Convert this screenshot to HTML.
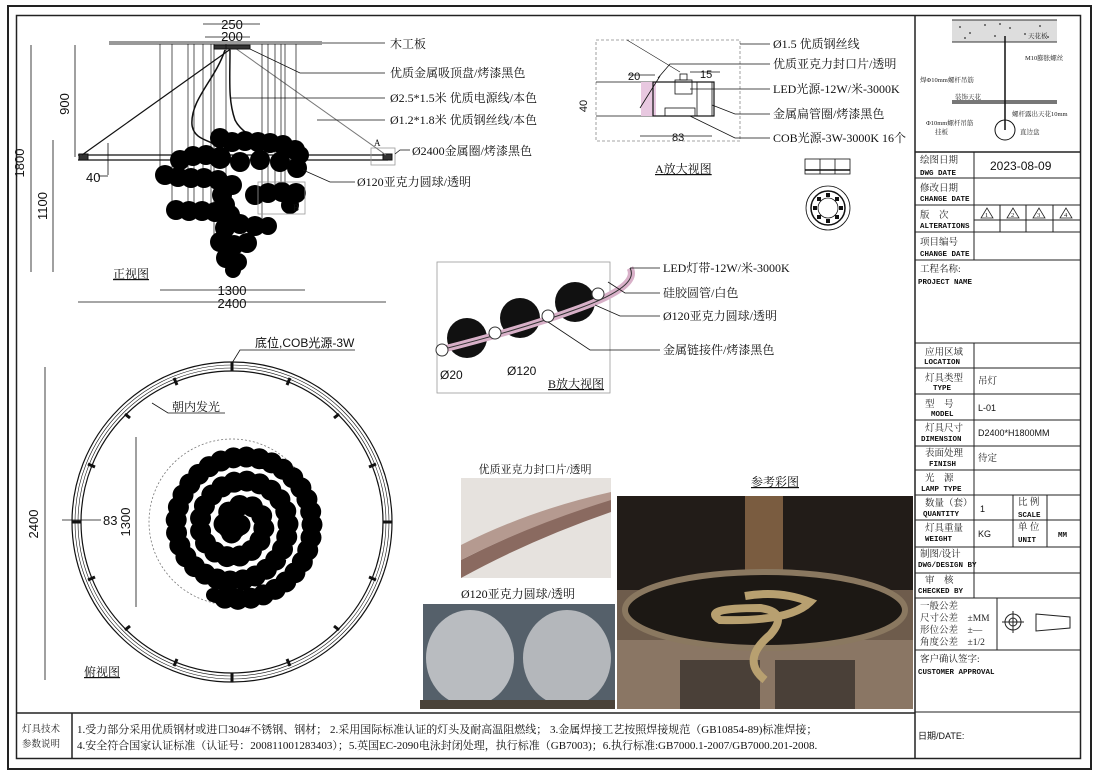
<!DOCTYPE html>
<html><head><meta charset="utf-8"><style>
html,body{margin:0;padding:0;background:#fff;}
svg{display:block;}
.s{font-family:"Liberation Serif","Noto Serif CJK SC",serif;font-size:12px;fill:#111;}
.a{font-family:"Liberation Sans","Noto Sans CJK SC",sans-serif;font-size:13px;fill:#111;}
.t{font-family:"Liberation Serif","Noto Serif CJK SC",serif;font-size:9.5px;fill:#222;}
.e{font-family:"Liberation Mono","Noto Sans CJK SC",monospace;font-size:7.5px;font-weight:bold;fill:#111;}
</style></head><body>
<svg width="1100" height="776" viewBox="0 0 1100 776" xmlns="http://www.w3.org/2000/svg">
<rect x="0" y="0" width="1100" height="776" fill="#fff"/>
<rect x="8" y="6" width="1083" height="763" fill="none" stroke="#222" stroke-width="2"/>
<rect x="16.5" y="15.5" width="1064" height="743" fill="none" stroke="#222" stroke-width="1.5"/>
<line x1="915" y1="15" x2="915" y2="759" stroke="#222" stroke-width="1.5"/>
<line x1="16" y1="713" x2="915" y2="713" stroke="#222" stroke-width="1.5"/>
<line x1="72" y1="713" x2="72" y2="759" stroke="#222" stroke-width="1.5"/>
<text class="t" x="22" y="732">灯具技术</text>
<text class="t" x="22" y="747">参数说明</text>
<text class="s" x="77" y="733" style="font-size:11px">1.受力部分采用优质钢材或进口304#不锈钢、钢材； 2.采用国际标准认证的灯头及耐高温阻燃线； 3.金属焊接工艺按照焊接规范（GB10854-89)标准焊接；</text>
<text class="s" x="77" y="749" style="font-size:11px">4.安全符合国家认证标准（认证号：200811001283403）；5.英国EC-2090电泳封闭处理，执行标准（GB7003)；6.执行标准:GB7000.1-2007/GB7000.201-2008.</text>

<!-- FRONT VIEW -->
<g stroke="#111" fill="none">
<line x1="109" y1="43" x2="322" y2="43" stroke="#999" stroke-width="4"/>
<line x1="322" y1="43" x2="385" y2="43" stroke-width="0.8"/>
<line x1="78" y1="155" x2="388" y2="155" stroke-width="1.2"/>
<line x1="78" y1="160" x2="388" y2="160" stroke-width="1.2"/>
<rect x="79" y="154" width="9" height="6" fill="#333"/>
<rect x="383" y="154" width="9" height="6" fill="#333"/>
<rect x="371" y="148" width="24" height="17" stroke="#999" stroke-width="0.8"/>
<line x1="232" y1="48" x2="82" y2="155" stroke-width="1.2"/>
<line x1="235" y1="48" x2="386" y2="155" stroke="#777" stroke-width="1"/>
<path d="M225 50 C215 80 190 100 192 125 C194 140 210 140 215 145" stroke-width="1.5"/>
<path d="M230 50 C230 80 228 100 235 120 C240 130 250 135 255 140" stroke-width="1.5"/>
<rect x="214" y="45" width="36" height="4" fill="#333"/>
<g stroke-width="0.7">
<line x1="160" y1="44" x2="160" y2="175"/><line x1="172" y1="44" x2="172" y2="210"/>
<line x1="188" y1="44" x2="188" y2="215"/><line x1="194" y1="44" x2="194" y2="210"/>
<line x1="203" y1="44" x2="203" y2="220"/><line x1="211" y1="44" x2="211" y2="210"/>
<line x1="214" y1="44" x2="214" y2="250"/><line x1="226" y1="44" x2="226" y2="260"/>
<line x1="262" y1="44" x2="262" y2="225"/><line x1="268" y1="44" x2="268" y2="200"/>
<line x1="275" y1="44" x2="275" y2="190"/><line x1="281" y1="44" x2="281" y2="200"/>
<line x1="285" y1="44" x2="285" y2="190"/><line x1="296" y1="44" x2="296" y2="150"/>
</g>
</g>
<g fill="#000">
<circle cx="220" cy="138" r="10"/><circle cx="232" cy="142" r="10"/><circle cx="245" cy="141" r="10"/><circle cx="258" cy="142" r="10"/><circle cx="270" cy="143" r="10"/><circle cx="283" cy="145" r="10"/><circle cx="295" cy="150" r="10"/>
<circle cx="180" cy="160" r="10"/><circle cx="193" cy="156" r="10"/><circle cx="206" cy="155" r="10"/><circle cx="220" cy="158" r="11"/><circle cx="240" cy="162" r="10"/><circle cx="260" cy="160" r="10"/><circle cx="280" cy="162" r="10"/><circle cx="297" cy="168" r="10"/><circle cx="300" cy="155" r="9"/>
<circle cx="165" cy="175" r="10"/><circle cx="178" cy="177" r="10"/><circle cx="191" cy="178" r="10"/><circle cx="204" cy="178" r="10"/><circle cx="218" cy="180" r="10"/><circle cx="232" cy="185" r="10"/>
<circle cx="255" cy="195" r="10"/><circle cx="268" cy="193" r="10"/><circle cx="282" cy="192" r="10"/><circle cx="296" cy="193" r="10"/><circle cx="290" cy="205" r="9"/>
<circle cx="222" cy="195" r="10"/><circle cx="225" cy="205" r="10"/>
<circle cx="176" cy="210" r="10"/><circle cx="189" cy="211" r="10"/><circle cx="202" cy="211" r="10"/><circle cx="215" cy="212" r="10"/><circle cx="230" cy="215" r="10"/>
<circle cx="225" cy="228" r="10"/><circle cx="240" cy="224" r="10"/><circle cx="255" cy="226" r="10"/><circle cx="268" cy="226" r="9"/>
<circle cx="220" cy="242" r="10"/><circle cx="234" cy="245" r="10"/><circle cx="247" cy="243" r="10"/>
<circle cx="226" cy="258" r="10"/><circle cx="238" cy="262" r="9"/><circle cx="233" cy="270" r="8"/>
</g>
<rect x="258" y="182" width="47" height="32" fill="none" stroke="#999" stroke-width="0.8"/>
<text class="s" x="293" y="211" style="font-size:9px">B</text>
<text class="s" x="374" y="146" style="font-size:9px">A</text>
<g stroke="#111" stroke-width="0.8" fill="none">
<line x1="31" y1="45" x2="31" y2="272"/><line x1="75" y1="45" x2="75" y2="157"/><line x1="53" y1="140" x2="53" y2="272"/>
<line x1="108" y1="143" x2="108" y2="175"/><line x1="98" y1="176" x2="108" y2="176"/>
<line x1="160" y1="290" x2="305" y2="290"/><line x1="78" y1="302" x2="386" y2="302"/>
<line x1="203" y1="24" x2="260" y2="24"/><line x1="205" y1="37" x2="250" y2="37"/>
<polyline points="250,49 300,73 385,73"/><polyline points="230,98 385,98"/><polyline points="317,120 385,120"/>
<polyline points="395,154 400,150 410,150"/><polyline points="303,170 330,182 355,182"/>
</g>
<g class="a">
<text x="24" y="163" transform="rotate(-90 24 163)" text-anchor="middle">1800</text>
<text x="69" y="104" transform="rotate(-90 69 104)" text-anchor="middle">900</text>
<text x="47" y="206" transform="rotate(-90 47 206)" text-anchor="middle">1100</text>
<text x="86" y="182">40</text>
<text x="232" y="295" text-anchor="middle">1300</text>
<text x="232" y="308" text-anchor="middle">2400</text>
<text x="232" y="29" text-anchor="middle">250</text>
<text x="232" y="41" text-anchor="middle">200</text>
</g>
<g class="s">
<text x="390" y="48">木工板</text>
<text x="390" y="77">优质金属吸顶盘/烤漆黑色</text>
<text x="390" y="102">Ø2.5*1.5米 优质电源线/本色</text>
<text x="390" y="124">Ø1.2*1.8米 优质钢丝线/本色</text>
<text x="412" y="155">Ø2400金属圈/烤漆黑色</text>
<text x="357" y="186">Ø120亚克力圆球/透明</text>
<text x="113" y="278" text-decoration="underline">正视图</text>
</g>

<!-- A detail -->
<g stroke="#111" stroke-width="0.8" fill="none">
<rect x="596" y="40" width="144" height="101" stroke="#888" stroke-dasharray="3,2"/>
<line x1="627" y1="40" x2="680" y2="72" stroke-width="0.6"/>
<line x1="596" y1="82" x2="655" y2="82"/><line x1="596" y1="116" x2="655" y2="116"/>
<rect x="641" y="82" width="15" height="34" fill="#e8c8e0" stroke="none"/>
<rect x="653" y="82" width="61" height="34" stroke-width="1.2"/>
<rect x="675" y="80" width="17" height="14"/><rect x="680" y="74" width="7" height="6"/>
<rect x="665" y="108" width="30" height="8"/>
<rect x="697" y="82" width="15" height="34"/>
<line x1="640" y1="108" x2="660" y2="76"/>
<line x1="740" y1="44" x2="770" y2="44"/>
<polyline points="658,78 670,64 770,64"/>
<line x1="690" y1="89" x2="770" y2="89"/>
<polyline points="712,105 735,114 770,114"/>
<polyline points="690,116 735,138 770,138"/>
<line x1="640" y1="136" x2="712" y2="136"/>
<line x1="628" y1="75" x2="655" y2="75"/><line x1="690" y1="72" x2="720" y2="72"/>
<rect x="805" y="159" width="45" height="15"/><line x1="820" y1="159" x2="820" y2="174"/><line x1="835" y1="159" x2="835" y2="174"/>
<line x1="805" y1="170" x2="850" y2="170" stroke-width="1.5"/>
<circle cx="828" cy="208" r="22"/><circle cx="828" cy="208" r="17" stroke-width="1.5"/><circle cx="828" cy="208" r="10"/>
</g>
<g fill="#111">
<rect x="826" y="193" width="4" height="4"/><rect x="826" y="219" width="4" height="4"/><rect x="813" y="206" width="4" height="4"/><rect x="839" y="206" width="4" height="4"/>
<rect x="817" y="197" width="4" height="4"/><rect x="835" y="197" width="4" height="4"/><rect x="817" y="215" width="4" height="4"/><rect x="835" y="215" width="4" height="4"/>
</g>
<g class="a" style="font-size:11px"><text x="628" y="80">20</text><text x="700" y="78">15</text><text x="672" y="141">83</text>
<text x="587" y="106" transform="rotate(-90 587 106)" text-anchor="middle">40</text></g>
<g class="s">
<text x="773" y="48">Ø1.5 优质钢丝线</text>
<text x="773" y="68">优质亚克力封口片/透明</text>
<text x="773" y="93">LED光源-12W/米-3000K</text>
<text x="773" y="118">金属扁管圈/烤漆黑色</text>
<text x="773" y="142">COB光源-3W-3000K 16个</text>
<text x="655" y="173" text-decoration="underline">A放大视图</text>
</g>

<!-- B detail -->
<rect x="437" y="262" width="173" height="131" fill="none" stroke="#999" stroke-width="0.8"/>
<g fill="#111"><circle cx="467" cy="338" r="20"/><circle cx="520" cy="318" r="20"/><circle cx="575" cy="302" r="20"/></g>
<path d="M440 350 Q 520 330 580 308 T 630 268" stroke="#d8b0c8" stroke-width="7" fill="none"/>
<path d="M440 350 Q 520 330 580 308 T 630 268" stroke="#333" stroke-width="1" fill="none"/>
<g fill="#fff" stroke="#333" stroke-width="1"><circle cx="442" cy="350" r="6"/><circle cx="495" cy="333" r="6"/><circle cx="548" cy="316" r="6"/><circle cx="598" cy="294" r="6"/></g>
<g stroke="#111" stroke-width="0.8" fill="none">
<line x1="630" y1="268" x2="660" y2="268"/><polyline points="608,282 625,293 660,293"/>
<polyline points="595,305 620,316 660,316"/><polyline points="548,322 590,350 660,350"/>
</g>
<g class="a" style="font-size:12px"><text x="440" y="379">Ø20</text><text x="507" y="375">Ø120</text></g>
<g class="s">
<text x="663" y="272">LED灯带-12W/米-3000K</text>
<text x="663" y="297">硅胶圆管/白色</text>
<text x="663" y="320">Ø120亚克力圆球/透明</text>
<text x="663" y="354">金属链接件/烤漆黑色</text>
<text x="548" y="388" text-decoration="underline">B放大视图</text>
</g>

<!-- TOP VIEW -->
<g fill="none" stroke="#111">
<circle cx="232" cy="522" r="160" stroke-width="1.2"/><circle cx="232" cy="522" r="157" stroke-width="0.6"/>
<circle cx="232" cy="522" r="154" stroke-width="0.6"/><circle cx="232" cy="522" r="151" stroke-width="1.2"/>
<circle cx="232" cy="522" r="83" stroke="#777" stroke-width="0.8" stroke-dasharray="2,2"/>
<path id="sp" d="M240 525 A8 8 0 0 1 224 525 A20 20 0 0 1 264 525 A32 32 0 0 1 200 525 A44 44 0 0 1 288 525 A56 56 0 0 1 176 525 A68 68 0 0 1 312 525 A74 74 0 0 1 213 595" stroke="#000" stroke-width="14" stroke-linecap="round"/>
<path d="M240 525 A8 8 0 0 1 224 525 A20 20 0 0 1 264 525 A32 32 0 0 1 200 525 A44 44 0 0 1 288 525 A56 56 0 0 1 176 525 A68 68 0 0 1 312 525 A74 74 0 0 1 213 595" stroke="#000" stroke-width="21" stroke-linecap="round" stroke-dasharray="0 13"/>
<line x1="45" y1="367" x2="45" y2="680" stroke-width="0.8"/>
<line x1="136" y1="437" x2="136" y2="607" stroke-width="0.8"/>
<line x1="62" y1="520" x2="101" y2="520" stroke-width="0.8"/>
<polyline points="232,363 240,350 355,350" stroke-width="0.8"/>
<polyline points="152,403 168,413 225,413" stroke-width="0.8"/>
</g>
<g stroke="#111" stroke-width="3">
<line x1="232" y1="362" x2="232" y2="371"/><line x1="232" y1="673" x2="232" y2="682"/>
<line x1="72" y1="522" x2="81" y2="522"/><line x1="383" y1="522" x2="392" y2="522"/>
<line x1="174" y1="378" x2="177" y2="385"/><line x1="290" y1="378" x2="287" y2="385"/>
<line x1="125" y1="414" x2="130" y2="418"/><line x1="339" y1="414" x2="334" y2="418"/>
<line x1="88" y1="464" x2="95" y2="467"/><line x1="376" y1="464" x2="369" y2="467"/>
<line x1="88" y1="580" x2="95" y2="577"/><line x1="376" y1="580" x2="369" y2="577"/>
<line x1="125" y1="630" x2="130" y2="626"/><line x1="339" y1="630" x2="334" y2="626"/>
<line x1="174" y1="666" x2="177" y2="659"/><line x1="290" y1="666" x2="287" y2="659"/>
</g>
<g class="a">
<text x="38" y="524" transform="rotate(-90 38 524)" text-anchor="middle">2400</text>
<text x="130" y="522" transform="rotate(-90 130 522)" text-anchor="middle">1300</text>
<text x="103" y="525">83</text>
<text x="255" y="347" style="font-size:12px">底位,COB光源-3W</text>
</g>
<g class="s"><text x="172" y="411">朝内发光</text><text x="84" y="676" text-decoration="underline">俯视图</text></g>

<!-- PHOTOS -->
<text class="s" x="535" y="473" text-anchor="middle" style="font-size:11px">优质亚克力封口片/透明</text>
<rect x="461" y="478" width="150" height="100" fill="#e6e2de"/>
<path d="M461 560 Q 530 525 611 498 L611 512 Q 530 540 461 578 Z" fill="#8a6a60"/>
<path d="M461 545 Q 530 510 611 492 L611 500 Q 530 525 461 560 Z" fill="#b59a90"/>
<text class="s" x="518" y="598" text-anchor="middle">Ø120亚克力圆球/透明</text>
<rect x="423" y="604" width="192" height="105" fill="#55606a"/>
<ellipse cx="470" cy="658" rx="44" ry="48" fill="#b9bcc0"/>
<ellipse cx="567" cy="658" rx="44" ry="48" fill="#b4b7bb"/>
<rect x="420" y="700" width="195" height="9" fill="#4a4238"/>
<text class="s" x="775" y="486" text-anchor="middle" text-decoration="underline">参考彩图</text>
<rect x="617" y="496" width="296" height="213" fill="#221c18"/>
<rect x="745" y="496" width="38" height="90" fill="#7a5c40"/>
<rect x="617" y="590" width="296" height="119" fill="#6e5c4c"/>
<rect x="617" y="640" width="296" height="69" fill="#8a7664"/>
<rect x="680" y="660" width="80" height="49" fill="#4a4038"/><rect x="775" y="660" width="80" height="49" fill="#4a4038"/>
<ellipse cx="765" cy="610" rx="140" ry="38" fill="#1c1814" stroke="#8a7860" stroke-width="6"/>
<path d="M745 596 Q 780 590 810 602 Q 790 622 720 620 Q 700 608 760 608 Q 790 612 770 635 Q 740 660 765 680" stroke="#b8a070" stroke-width="8" fill="none"/>

<!-- TITLE BLOCK -->
<g stroke="#222" stroke-width="1" fill="none">
<line x1="915" y1="152" x2="1080" y2="152" stroke-width="1.5"/>
<line x1="915" y1="178" x2="1080" y2="178"/><line x1="915" y1="205" x2="1080" y2="205"/>
<line x1="915" y1="232" x2="1080" y2="232"/><line x1="915" y1="260" x2="1080" y2="260"/>
<line x1="915" y1="343" x2="1080" y2="343"/><line x1="915" y1="368" x2="1080" y2="368"/>
<line x1="915" y1="394" x2="1080" y2="394"/><line x1="915" y1="420" x2="1080" y2="420"/>
<line x1="915" y1="446" x2="1080" y2="446"/><line x1="915" y1="470" x2="1080" y2="470"/>
<line x1="915" y1="495" x2="1080" y2="495"/><line x1="915" y1="520" x2="1080" y2="520"/>
<line x1="915" y1="547" x2="1080" y2="547"/><line x1="915" y1="573" x2="1080" y2="573"/>
<line x1="915" y1="598" x2="1080" y2="598"/><line x1="915" y1="650" x2="1080" y2="650"/>
<line x1="915" y1="712" x2="1080" y2="712"/>
<line x1="974" y1="152" x2="974" y2="260"/><line x1="974" y1="343" x2="974" y2="598"/>
<line x1="1000" y1="205" x2="1000" y2="232"/><line x1="1026" y1="205" x2="1026" y2="232"/><line x1="1053" y1="205" x2="1053" y2="232"/>
<line x1="974" y1="220" x2="1080" y2="220"/>
<line x1="1013" y1="495" x2="1013" y2="547"/><line x1="1047" y1="495" x2="1047" y2="547"/>
<line x1="997" y1="598" x2="997" y2="650"/>
<circle cx="1013" cy="622" r="8"/><circle cx="1013" cy="622" r="4"/><line x1="1002" y1="622" x2="1024" y2="622"/><line x1="1013" y1="611" x2="1013" y2="633"/>
<polygon points="1036,614 1070,617 1070,628 1036,631"/>
</g>
<g fill="none" stroke="#222" stroke-width="0.8">
<polygon points="987,208 981,218 993,218"/><polygon points="1013,208 1007,218 1019,218"/>
<polygon points="1039,208 1033,218 1045,218"/><polygon points="1066,208 1060,218 1072,218"/>
</g>
<g class="t" style="font-size:6.5px"><text x="985" y="217">1</text><text x="1011" y="217">2</text><text x="1037" y="217">3</text><text x="1064" y="217">4</text></g>
<rect x="952" y="20" width="105" height="22" fill="#ddd"/>
<g fill="#555"><circle cx="960" cy="27" r="1"/><circle cx="970" cy="33" r="1"/><circle cx="985" cy="25" r="1"/><circle cx="995" cy="36" r="1"/><circle cx="1010" cy="28" r="1"/><circle cx="1025" cy="34" r="1"/><circle cx="1040" cy="26" r="1"/><circle cx="965" cy="38" r="1"/><circle cx="1000" cy="24" r="1"/><circle cx="1048" cy="37" r="1"/></g>
<line x1="952" y1="20" x2="1057" y2="20" stroke="#333"/><line x1="952" y1="42" x2="1057" y2="42" stroke="#333"/>
<rect x="952" y="100" width="105" height="4" fill="#777"/>
<line x1="1005" y1="36" x2="1005" y2="130" stroke="#111" stroke-width="1.5"/>
<circle cx="1005" cy="130" r="10" fill="none" stroke="#111"/>
<g class="t" style="font-size:6.5px">
<text x="1028" y="38">天花板</text><text x="1025" y="60">M10膨胀螺丝</text><text x="920" y="82">焊Φ10mm螺杆吊筋</text>
<text x="955" y="99">装饰天花</text><text x="1012" y="116">螺杆露出天花10mm</text>
<text x="926" y="125">Φ10mm螺杆吊筋</text><text x="935" y="134">挂板</text><text x="1020" y="134">直边盘</text>
</g>
<g class="t">
<text x="920" y="163">绘图日期</text><text x="920" y="191">修改日期</text><text x="920" y="218">版　次</text>
<text x="920" y="245">项目编号</text><text x="920" y="272">工程名称:</text>
<text x="925" y="355">应用区域</text><text x="925" y="381">灯具类型</text><text x="925" y="407">型　号</text>
<text x="925" y="431">灯具尺寸</text><text x="925" y="456">表面处理</text><text x="925" y="481">光　源</text>
<text x="925" y="506">数量（套）</text><text x="925" y="531">灯具重量</text><text x="920" y="557">制图/设计</text>
<text x="925" y="583">审　核</text><text x="920" y="609">一般公差</text><text x="920" y="621">尺寸公差　±MM</text>
<text x="920" y="633">形位公差　±—</text><text x="920" y="645">角度公差　±1/2</text>
<text x="920" y="662">客户确认签字:</text>
<text x="1018" y="505">比 例</text><text x="1018" y="530">单 位</text>
<text x="978" y="384">吊灯</text><text x="978" y="461">待定</text>
</g>
<g class="e">
<text x="920" y="175">DWG DATE</text>
<text x="920" y="201">CHANGE DATE</text><text x="920" y="228">ALTERATIONS</text><text x="920" y="256">CHANGE DATE</text>
<text x="918" y="284">PROJECT NAME</text><text x="924" y="364">LOCATION</text><text x="933" y="390">TYPE</text>
<text x="931" y="416">MODEL</text><text x="921" y="441">DIMENSION</text><text x="929" y="466">FINISH</text>
<text x="921" y="491">LAMP TYPE</text><text x="923" y="516">QUANTITY</text><text x="925" y="541">WEIGHT</text>
<text x="918" y="567">DWG/DESIGN BY</text><text x="918" y="593">CHECKED BY</text><text x="918" y="674">CUSTOMER APPROVAL</text>
<text x="1018" y="517">SCALE</text><text x="1018" y="542">UNIT</text><text x="1058" y="537">MM</text>
</g>
<g class="a" style="font-size:12px"><text x="990" y="170">2023-08-09</text></g>
<g class="a" style="font-size:9px"><text x="978" y="411">L-01</text><text x="978" y="436">D2400*H1800MM</text><text x="980" y="512">1</text><text x="978" y="537">KG</text>
<text x="918" y="739">日期/DATE:</text></g>
</svg>
</body></html>
